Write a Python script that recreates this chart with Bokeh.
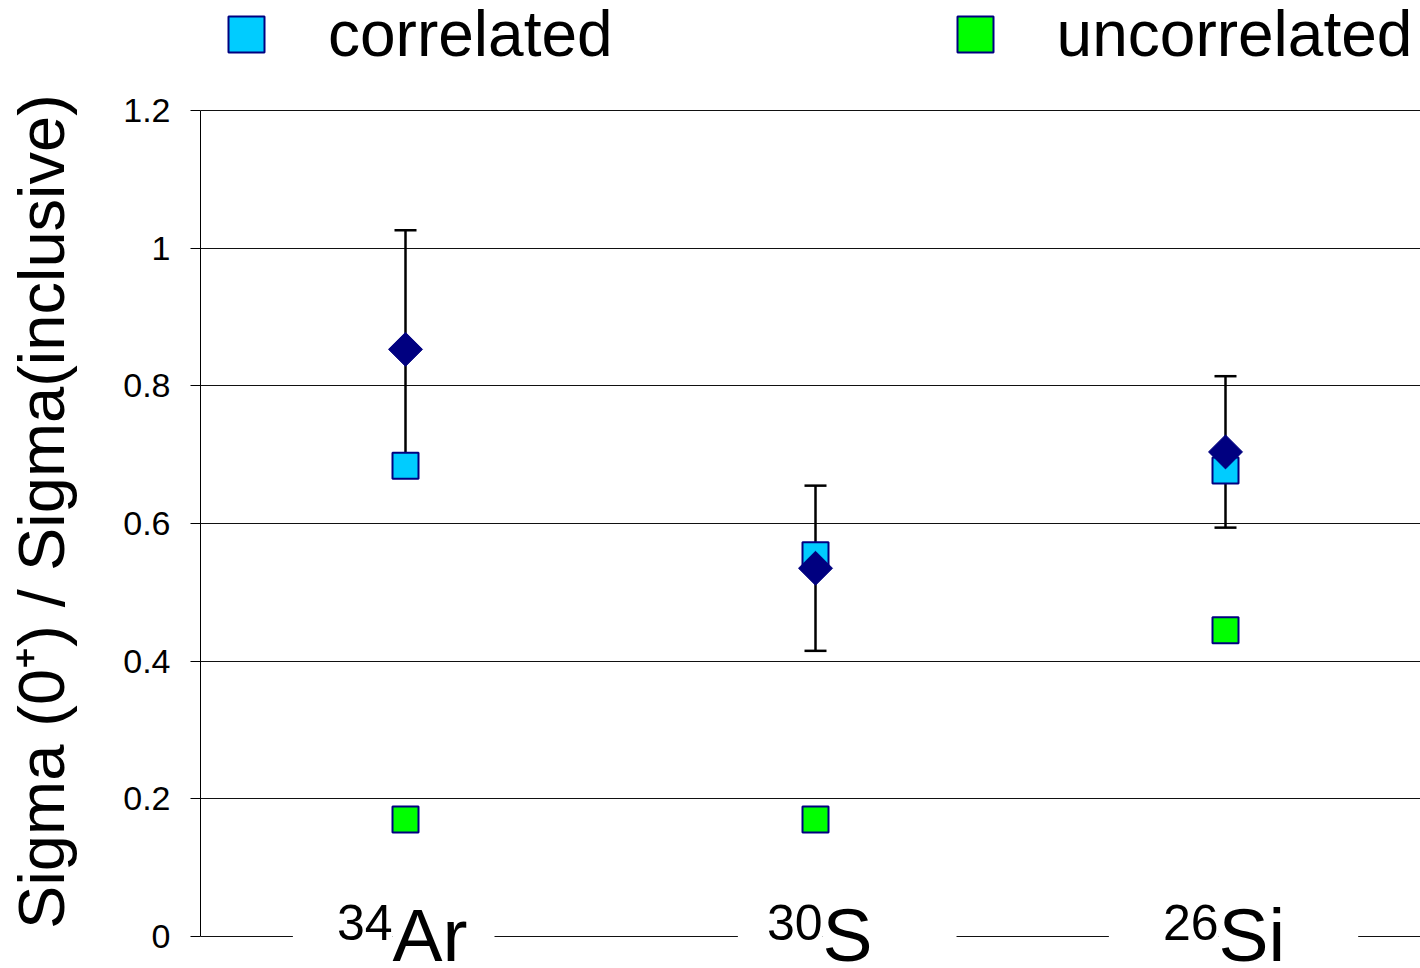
import numpy as np
from bokeh.plotting import figure
from bokeh.models import (Range1d, FixedTicker, Whisker, TeeHead, ColumnDataSource,
                          Legend, LegendItem, Label)
from bokeh.embed import file_html
from bokeh.resources import INLINE

# ---- data ----
mass_numbers = ["34", "30", "26"]
elements = ["Ar", "S", "Si"]
measured = [0.853, 0.535, 0.704]
measured_err = [0.173, 0.120, 0.110]
correlated = [0.684, 0.554, 0.677]
uncorrelated = [0.170, 0.170, 0.445]
y_ticks = [0, 0.2, 0.4, 0.6, 0.8, 1.0, 1.2]
y_tick_labels = ["0", "0.2", "0.4", "0.6", "0.8", "1", "1.2"]
series_names = ["correlated", "uncorrelated"]
y_title = "Sigma (0\u207A) / Sigma(inclusive)"

FONT = "Liberation Sans"
xs = list(range(len(elements)))

# ---- layout (pixels) ----
W, H = 1420, 968
LEFT, TOP0, BOT0 = 200, 110, 936      # axis x, y of 1.2, y of 0
px_per_unit = (BOT0 - TOP0) / 1.2
y_lo = -(H - BOT0) / px_per_unit
y_hi = 1.2 + TOP0 / px_per_unit
cat_px = 410

src = ColumnDataSource(dict(
    x=xs,
    m=measured,
    up=[m + e for m, e in zip(measured, measured_err)],
    lo=[m - e for m, e in zip(measured, measured_err)],
    corr=correlated,
    unc=uncorrelated,
))

p = figure(width=W, height=H, output_backend="svg", toolbar_location=None,
           x_range=Range1d(-0.5, -0.5 + (W - LEFT) / cat_px), y_range=Range1d(y_lo, y_hi),
           min_border_left=LEFT, min_border_right=0, min_border_top=0,
           min_border_bottom=0)
p.outline_line_color = None
p.background_fill_color = "white"
p.border_fill_color = "white"
p.xaxis.visible = False
p.xgrid.visible = False
p.ygrid.ticker = FixedTicker(ticks=y_ticks)
p.ygrid.grid_line_color = "#111111"
p.ygrid.grid_line_width = 1

yax = p.yaxis[0]
yax.ticker = FixedTicker(ticks=y_ticks)
yax.bounds = (0, 1.2)
yax.major_label_overrides = {t: l for t, l in zip(y_ticks, y_tick_labels)}
yax.axis_line_color = "black"
yax.axis_line_width = 1
yax.major_tick_line_color = "black"
yax.major_tick_out = 10
yax.major_tick_in = 0
yax.minor_tick_line_color = None
yax.major_label_text_font = FONT
yax.major_label_text_font_size = "34px"
yax.major_label_text_color = "black"
yax.major_label_standoff = 20
yax.axis_label = y_title + "\u00A0\u00A0\u00A0"
yax.axis_label_text_font = FONT
yax.axis_label_text_font_size = "65px"
yax.axis_label_text_font_style = "normal"
yax.axis_label_text_color = "black"
yax.axis_label_standoff = 42

whisk = Whisker(base="x", upper="up", lower="lo", source=src, dimension="height",
                line_color="black", line_width=2.5, level="underlay",
                upper_head=TeeHead(size=22, line_width=2.5, line_color="black"),
                lower_head=TeeHead(size=22, line_width=2.5, line_color="black"))
p.add_layout(whisk)

r_corr = p.scatter("x", "corr", source=src, marker="square", size=26,
                   fill_color="#00CCFF", line_color="#000080", line_width=2)
r_unc = p.scatter("x", "unc", source=src, marker="square", size=26,
                  fill_color="#00FF00", line_color="#000080", line_width=2)
p.scatter("x", "m", source=src, marker="square", angle=np.pi / 4, size=24,
          fill_color="#000080", line_color="#000080", line_width=1)

legend = Legend(items=[LegendItem(label=series_names[0], renderers=[r_corr]),
                       LegendItem(label=series_names[1], renderers=[r_unc])],
                location=(1, H - 79), orientation="horizontal",
                glyph_width=90, glyph_height=90, label_standoff=37, spacing=317,
                label_text_font=FONT, label_text_font_size="64px",
                label_text_color="black",
                padding=0, margin=0, border_line_color=None,
                background_fill_alpha=0)
p.add_layout(legend)

# category labels (superscript mass number + element symbol)
anchor_dx = [-13, 7, -7]
sup_pad_left = [44, 29, 54]
main_pad_right = [27, 84, 73]
for i in range(len(elements)):
    p.add_layout(Label(x=xs[i], y=0, text=elements[i], x_offset=anchor_dx[i], y_offset=2,
                       text_align="left", text_baseline="alphabetic",
                       text_font=FONT, text_font_size="75px", text_color="black",
                       background_fill_color="white",
                       padding=dict(top=0, right=main_pad_right[i], bottom=0, left=0)))
    p.add_layout(Label(x=xs[i], y=0, text=mass_numbers[i], x_offset=anchor_dx[i], y_offset=14,
                       text_align="right", text_baseline="alphabetic",
                       text_font=FONT, text_font_size="50px", text_color="black",
                       background_fill_color="white",
                       padding=dict(top=0, right=0, bottom=0, left=sup_pad_left[i])))

open("out.html", "w").write(file_html(p, INLINE))
